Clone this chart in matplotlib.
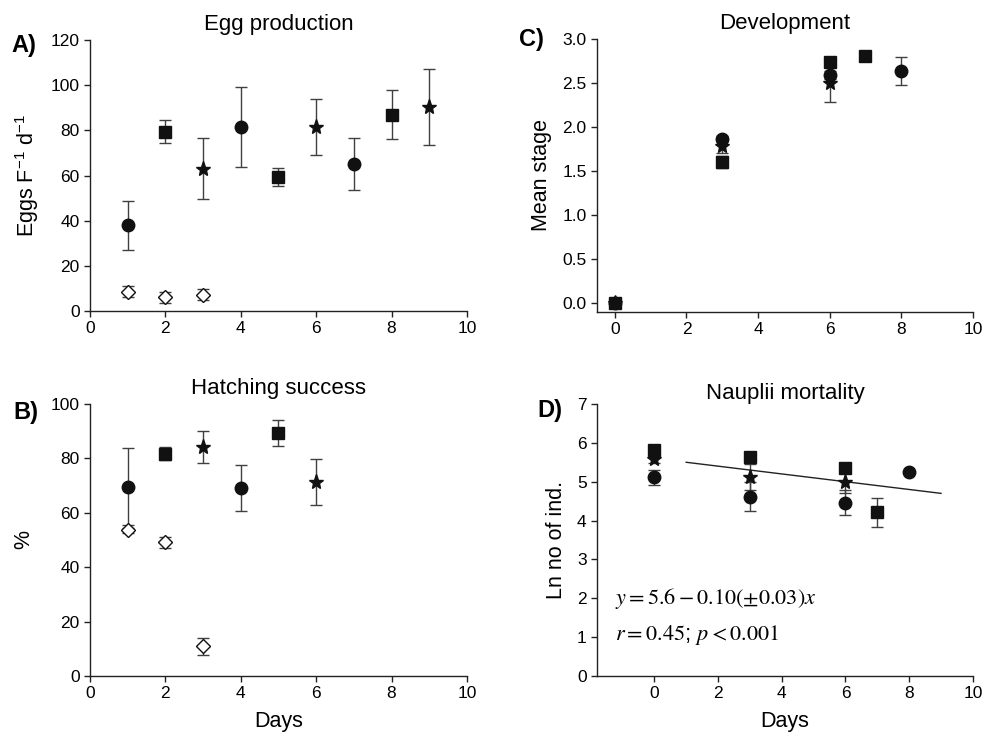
import matplotlib
matplotlib.use("Agg")
import matplotlib.pyplot as plt

plt.rcParams['font.family'] = ['Liberation Sans', 'DejaVu Sans']
plt.rcParams['mathtext.fontset'] = 'stix'

# Panel A: Egg production
a_circ_x = [1, 4, 7];  a_circ_y = [38, 81.5, 65];   a_circ_e = [10.8, 17.6, 11.6]
a_sq_x = [2, 5, 8];    a_sq_y = [79.5, 59.5, 87];   a_sq_e = [5.0, 4.0, 10.8]
a_star_x = [3, 6, 9];  a_star_y = [63, 81.5, 90.5]; a_star_e = [13.6, 12.6, 16.8]
a_dia_x = [1, 2, 3];   a_dia_y = [8.5, 6, 7.2];     a_dia_e = [2.5, 2.5, 2.5]

# Panel B: Hatching success
b_circ_x = [1, 4];  b_circ_y = [69.6, 69.2];  b_circ_e = [14.2, 8.5]
b_sq_x = [2, 5];    b_sq_y = [81.7, 89.4];    b_sq_e = [2.4, 4.8]
b_star_x = [3, 6];  b_star_y = [84.2, 71.2];  b_star_e = [6.0, 8.4]
b_dia_x = [1, 2, 3]; b_dia_y = [53.5, 49.2, 10.9]; b_dia_e = [1.0, 2.0, 3.0]

# Panel C: Development
c_circ_x = [0, 3, 6, 8];  c_circ_y = [0, 1.87, 2.59, 2.64]; c_circ_e = [0, 0.03, 0.05, 0.16]
c_star_x = [0, 3, 6];     c_star_y = [0, 1.79, 2.50];       c_star_e = [0, 0.08, 0.22]
c_sq_x = [0, 3, 6, 7];    c_sq_y = [0, 1.60, 2.74, 2.81];   c_sq_e = [0, 0.07, 0.04, 0.02]

# Panel D: Nauplii mortality
d_circ_x = [0, 3, 6, 8];  d_circ_y = [5.11, 4.61, 4.46, 5.25]; d_circ_e = [0.2, 0.37, 0.32, 0.05]
d_star_x = [0, 3, 6];     d_star_y = [5.58, 5.12, 4.99];       d_star_e = [0.1, 0.33, 0.27]
d_sq_x = [0, 3, 6, 7];    d_sq_y = [5.81, 5.64, 5.34, 4.21];   d_sq_e = [0.05, 0.05, 0.05, 0.38]
fit_x = [1, 9]
fit_intercept = 5.6
fit_slope = -0.10

TICK = 12.5
LAB = 15.5
TIT = 16

fig = plt.figure(figsize=(9.84, 7.38), dpi=100)
axA = fig.add_axes([0.0915, 0.5786, 0.383, 0.367])
axC = fig.add_axes([0.6067, 0.5772, 0.382, 0.370])
axB = fig.add_axes([0.0915, 0.084, 0.383, 0.3686])
axD = fig.add_axes([0.6067, 0.084, 0.382, 0.3686])

ecol = '#404040'

def series(ax, x, y, e, marker, ms, filled=True):
    ax.errorbar(x, y, yerr=e, fmt='none', ecolor=ecol, elinewidth=1.0,
                capsize=4, capthick=1.0, zorder=2)
    if filled:
        ax.plot(x, y, linestyle='none', marker=marker, ms=ms, color='#111111',
                markeredgecolor='#111111', zorder=3)
    else:
        ax.plot(x, y, linestyle='none', marker=marker, ms=ms, markerfacecolor='white',
                markeredgecolor='#111111', markeredgewidth=1.0, zorder=4)

def style(ax):
    for s in ['top', 'right']:
        ax.spines[s].set_visible(False)
    for s in ['left', 'bottom']:
        ax.spines[s].set_color('#222222')
        ax.spines[s].set_linewidth(1.0)
    ax.tick_params(direction='out', length=4, width=1.0, labelsize=TICK, colors='#222222',
                   labelcolor='black')

# A
series(axA, a_circ_x, a_circ_y, a_circ_e, 'o', 9)
series(axA, a_star_x, a_star_y, a_star_e, '*', 11)
series(axA, a_sq_x, a_sq_y, a_sq_e, 's', 8)
series(axA, a_dia_x, a_dia_y, a_dia_e, 'D', 7.5, filled=False)
axA.set_xlim(0, 10); axA.set_ylim(0, 120)
axA.set_xticks(range(0, 11, 2)); axA.set_yticks(range(0, 121, 20))
axA.set_ylabel(r'Eggs F$^{\mathregular{-1}}$ d$^{\mathregular{-1}}$', fontsize=LAB, labelpad=7)
axA.set_title('Egg production', fontsize=TIT, pad=7)
style(axA)

# B
series(axB, b_circ_x, b_circ_y, b_circ_e, 'o', 9)
series(axB, b_star_x, b_star_y, b_star_e, '*', 11)
series(axB, b_sq_x, b_sq_y, b_sq_e, 's', 8)
series(axB, b_dia_x, b_dia_y, b_dia_e, 'D', 7.5, filled=False)
axB.set_xlim(0, 10); axB.set_ylim(0, 100)
axB.set_xticks(range(0, 11, 2)); axB.set_yticks(range(0, 101, 20))
axB.set_ylabel('%', fontsize=LAB, labelpad=12)
axB.set_xlabel('Days', fontsize=LAB, labelpad=7)
axB.set_title('Hatching success', fontsize=TIT, pad=7)
style(axB)

# C
series(axC, c_circ_x, c_circ_y, c_circ_e, 'o', 9)
series(axC, c_star_x, c_star_y, c_star_e, '*', 11)
series(axC, c_sq_x, c_sq_y, c_sq_e, 's', 8)
axC.set_xlim(-0.5, 10); axC.set_ylim(-0.1, 3.0)
axC.set_xticks(range(0, 11, 2)); axC.set_yticks([0, 0.5, 1.0, 1.5, 2.0, 2.5, 3.0])
axC.set_yticklabels(['0.0', '0.5', '1.0', '1.5', '2.0', '2.5', '3.0'])
axC.set_ylabel('Mean stage', fontsize=LAB, labelpad=7)
axC.set_title('Development', fontsize=TIT, pad=7)
style(axC)

# D
series(axD, d_circ_x, d_circ_y, d_circ_e, 'o', 9)
series(axD, d_star_x, d_star_y, d_star_e, '*', 11)
series(axD, d_sq_x, d_sq_y, d_sq_e, 's', 8)
fit_y = [fit_intercept + fit_slope * v for v in fit_x]
axD.plot(fit_x, fit_y, color='#222222', lw=1.0, zorder=1)
axD.set_xlim(-1.8, 10); axD.set_ylim(0, 7)
axD.set_xticks(range(0, 11, 2)); axD.set_yticks(range(0, 8))
axD.set_ylabel('Ln no of ind.', fontsize=LAB, labelpad=7)
axD.set_xlabel('Days', fontsize=LAB, labelpad=7)
axD.set_title('Nauplii mortality', fontsize=TIT, pad=-1)
axD.text(-1.25, 2.0, r'$y = 5.6 - 0.10(\pm 0.03)x$', fontsize=16, va='center')
axD.text(-1.25, 1.05, r'$r = 0.45$; $p < 0.001$', fontsize=16, va='center')
style(axD)

# Panel letters
fig.text(0.012, 0.938, 'A)', fontsize=17, fontweight='bold', va='center')
fig.text(0.014, 0.441, 'B)', fontsize=17, fontweight='bold', va='center')
fig.text(0.527, 0.946, 'C)', fontsize=17, fontweight='bold', va='center')
fig.text(0.546, 0.444, 'D)', fontsize=17, fontweight='bold', va='center')

fig.savefig('out.png', dpi=100)
